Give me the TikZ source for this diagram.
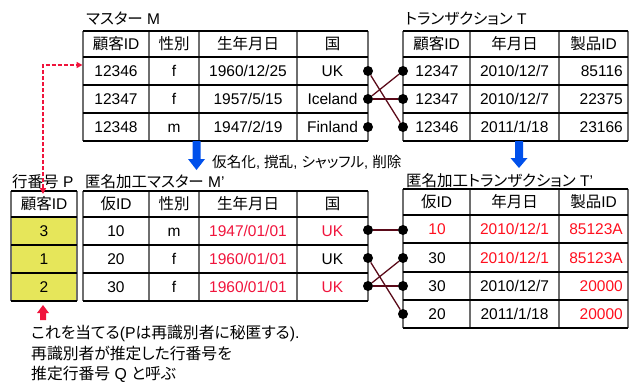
\documentclass[tikz,border=0pt]{standalone}
\usepackage{fontspec}
\setmainfont{Liberation Sans}
\newfontfamily\jp[RawFeature=+palt]{Noto Sans CJK JP}
\usetikzlibrary{arrows.meta}
\definecolor{redA}{RGB}{240,20,60}
\definecolor{redB}{RGB}{255,15,30}
\definecolor{blueA}{RGB}{0,80,235}
\definecolor{yel}{RGB}{230,230,90}
\definecolor{linkc}{RGB}{90,10,25}
\definecolor{vline}{RGB}{110,110,110}
\begin{document}
\begin{tikzpicture}[x=1pt,y=-1pt,
  cell/.style={inner sep=0pt, anchor=base, yshift=-5.6pt, font=\fontsize{15.5}{18}\selectfont},
  rcell/.style={cell, anchor=base east},
  ttl/.style={cell, anchor=base west},
  note/.style={inner sep=0pt, anchor=base west, yshift=-5.6pt, font=\fontsize{15.8}{18}\selectfont},
  hl/.style={line width=1.2pt, black},
  vl/.style={line width=1.2pt, vline},
  dot/.style={circle, fill=black, inner sep=0pt, minimum size=10pt},
  link/.style={linkc, line width=1.3pt},
  reddash/.style={redA, line width=1.5pt, dash pattern=on 4pt off 2pt,
     {Triangle[length=6pt,width=6pt]}-{Triangle[length=6pt,width=6pt]}},
]
\useasboundingbox (0,0) rectangle (629,383);

% ---------- Master M ----------
\node[ttl] (tM) at (86,19) {{\jp マスター} M};
\foreach \x in {83,149,199,297,368} \draw[vl] (\x,31) -- (\x,141);
\foreach \y in {31,57,85,113,141} \draw[hl] (83,\y) -- (368,\y);
\node[cell] (m01) at (116,44) {{\jp 顧客}ID};
\node[cell] (m02) at (174,44) {\jp 性別};
\node[cell] (m03) at (248,44) {\jp 生年月日};
\node[cell] (m04) at (332.5,44) {\jp 国};
\node[cell] (m11) at (116,71) {12346};
\node[cell] (m12) at (174,71) {f};
\node[cell] (m13) at (248,71) {1960/12/25};
\node[cell] (m14) at (332.5,71) {UK};
\node[cell] (m21) at (116,99) {12347};
\node[cell] (m22) at (174,99) {f};
\node[cell] (m23) at (248,99) {1957/5/15};
\node[cell] (m24) at (332.5,99) {Iceland};
\node[cell] (m31) at (116,127) {12348};
\node[cell] (m32) at (174,127) {m};
\node[cell] (m33) at (248,127) {1947/2/19};
\node[cell] (m34) at (332.5,127) {Finland};

% ---------- Transaction T ----------
\node[ttl] (tT) at (405,19) {{\jp トランザクション} T};
\foreach \x in {403,470,559,628} \draw[vl] (\x,31) -- (\x,141);
\foreach \y in {31,57,85,113,141} \draw[hl] (403,\y) -- (628,\y);
\node[cell] (t01) at (436.5,44) {{\jp 顧客}ID};
\node[cell] (t02) at (514.5,44) {\jp 年月日};
\node[cell] (t03) at (593.5,44) {{\jp 製品}ID};
\node[cell] (t11) at (437,71) {12347};
\node[cell] (t12) at (514.5,71) {2010/12/7};
\node[rcell] (t13) at (623,71) {85116};
\node[cell] (t21) at (437,99) {12347};
\node[cell] (t22) at (514.5,99) {2010/12/7};
\node[rcell] (t23) at (623,99) {22375};
\node[cell] (t31) at (437,127) {12346};
\node[cell] (t32) at (514.5,127) {2011/1/18};
\node[rcell] (t33) at (623,127) {23166};

% links M - T
\node[dot] (ma1) at (368,71) {};
\node[dot] (ma2) at (368,99) {};
\node[dot] (ma3) at (368,127) {};
\node[dot] (ta1) at (403,71) {};
\node[dot] (ta2) at (403,99) {};
\node[dot] (ta3) at (403,127) {};
\draw[link] (ma1) -- (ta3);
\draw[link] (ma2) -- (ta1);
\draw[link] (ma2) -- (ta2);

% ---------- blue arrows + label ----------
\fill[blueA] (192.5,141) -- (200.5,141) -- (200.5,159) -- (205,159) -- (196.5,170) -- (188,159) -- (192.5,159) -- cycle;
\fill[blueA] (515,141) -- (523,141) -- (523,158) -- (527.5,158) -- (519,168) -- (510.5,158) -- (515,158) -- cycle;
\node[inner sep=0pt, anchor=base west, yshift=-5.2pt, font=\fontsize{14.6}{17}\selectfont] (lab) at (212,162) {{\jp 仮名化}, {\jp 撹乱}, {\jp シャッフル}, {\jp 削除}};

% ---------- Row number P ----------
\node[ttl] (tP) at (12,182) {{\jp 行番号} P};
\fill[yel] (11,217) rectangle (77,301);
\foreach \x in {11,77} \draw[vl] (\x,191) -- (\x,301);
\foreach \y in {191,217,245,273,301} \draw[hl] (11,\y) -- (77,\y);
\node[cell] (p0) at (44,204) {{\jp 顧客}ID};
\node[cell] (p1) at (44,231) {3};
\node[cell] (p2) at (44,259) {1};
\node[cell] (p3) at (44,287) {2};

% ---------- Master M' ----------
\node[ttl] (tMp) at (85,182) {{\jp 匿名加工マスター} M'};
\foreach \x in {83,149,199,297,368} \draw[vl] (\x,191) -- (\x,301);
\foreach \y in {191,217,245,273,301} \draw[hl] (83,\y) -- (368,\y);
\node[cell] (n01) at (116,204) {{\jp 仮}ID};
\node[cell] (n02) at (174,204) {\jp 性別};
\node[cell] (n03) at (248,204) {\jp 生年月日};
\node[cell] (n04) at (332.5,204) {\jp 国};
\node[cell] (n11) at (116,231) {10};
\node[cell] (n12) at (174,231) {m};
\node[cell, text=redA] (n13) at (248,231) {1947/01/01};
\node[cell, text=redA] (n14) at (332.5,231) {UK};
\node[cell] (n21) at (116,259) {20};
\node[cell] (n22) at (174,259) {f};
\node[cell, text=redA] (n23) at (248,259) {1960/01/01};
\node[cell] (n24) at (332.5,259) {UK};
\node[cell] (n31) at (116,287) {30};
\node[cell] (n32) at (174,287) {f};
\node[cell, text=redA] (n33) at (248,287) {1960/01/01};
\node[cell, text=redA] (n34) at (332.5,287) {UK};

% ---------- Transaction T' ----------
\node[ttl] (tTp) at (406,181) {{\jp 匿名加工トランザクション} T'};
\foreach \x in {403,470,559,628} \draw[vl] (\x,189) -- (\x,328);
\foreach \y in {189,215,243,272,300,328} \draw[hl] (403,\y) -- (628,\y);
\node[cell] (u01) at (436.5,202) {{\jp 仮}ID};
\node[cell] (u02) at (514.5,202) {\jp 年月日};
\node[cell] (u03) at (593.5,202) {{\jp 製品}ID};
\node[cell, text=redB] (u11) at (437,229) {10};
\node[cell, text=redB] (u12) at (514.5,229) {2010/12/1};
\node[rcell, text=redB] (u13) at (623,229) {85123A};
\node[cell] (u21) at (437,257.5) {30};
\node[cell, text=redB] (u22) at (514.5,257.5) {2010/12/1};
\node[rcell, text=redB] (u23) at (623,257.5) {85123A};
\node[cell] (u31) at (437,286) {30};
\node[cell] (u32) at (514.5,286) {2010/12/7};
\node[rcell, text=redB] (u33) at (623,286) {20000};
\node[cell] (u41) at (437,314) {20};
\node[cell] (u42) at (514.5,314) {2011/1/18};
\node[rcell, text=redB] (u43) at (623,314) {20000};

% links M' - T'
\node[dot] (mb1) at (368,230) {};
\node[dot] (mb2) at (368,258) {};
\node[dot] (mb3) at (368,286) {};
\node[dot] (tb1) at (403,230) {};
\node[dot] (tb2) at (403,258) {};
\node[dot] (tb3) at (403,286) {};
\node[dot] (tb4) at (403,314) {};
\draw[link] (mb1) -- (tb1);
\draw[link] (mb2) -- (tb4);
\draw[link] (mb3) -- (tb2);
\draw[link] (mb3) -- (tb3);

% ---------- red dashed arrow ----------
\coordinate (da) at (43,194);
\coordinate (db) at (82.5,65);
\draw[reddash] (da) |- (db);

% ---------- red up arrow ----------
\fill[redA] (43,305) -- (49,313) -- (46,313) -- (46,320) -- (40,320) -- (40,313) -- (37,313) -- cycle;

% ---------- note ----------
\node[note] (q1) at (31,333) {{\jp これを当てる}(P{\jp は再識別者に秘匿する}).};
\node[note] (q2) at (31,354) {\jp 再識別者が推定した行番号を};
\node[note] (q3) at (31,374) {{\jp 推定行番号} Q {\jp と呼ぶ}};
\end{tikzpicture}
\end{document}
